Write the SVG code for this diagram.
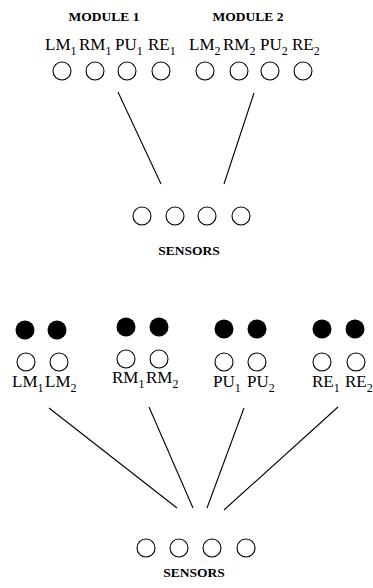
<svg xmlns="http://www.w3.org/2000/svg" width="373" height="588" viewBox="0 0 373 588">
<style>
.o{fill:none;stroke:#000;stroke-width:1.1}
.f{fill:#000}
.l{font-family:"Liberation Serif","Times New Roman",serif;font-size:17px;fill:#000}
.s{font-size:12px}
.t{font-family:"Liberation Serif","Times New Roman",serif;font-size:13.5px;font-weight:bold;fill:#000;text-anchor:middle}
.c{stroke:#000;stroke-width:1.1;fill:none}
</style>
<rect width="373" height="588" fill="#fff"/>
<g id="module1">
<text class="t" x="104" y="21">MODULE 1</text>
<text class="l" x="45" y="50">LM<tspan class="s" dy="4.5">1</tspan></text>
<text class="l" x="79" y="50">RM<tspan class="s" dy="4.5">1</tspan></text>
<text class="l" x="115" y="50">PU<tspan class="s" dy="4.5">1</tspan></text>
<text class="l" x="148" y="50">RE<tspan class="s" dy="4.5">1</tspan></text>
<circle class="o" cx="62" cy="71" r="9"/>
<circle class="o" cx="95" cy="71" r="9"/>
<circle class="o" cx="127" cy="71" r="9"/>
<circle class="o" cx="161" cy="71" r="9"/>
</g>
<g id="module2">
<text class="t" x="248" y="21">MODULE 2</text>
<text class="l" x="189" y="50">LM<tspan class="s" dy="4.5">2</tspan></text>
<text class="l" x="223" y="50">RM<tspan class="s" dy="4.5">2</tspan></text>
<text class="l" x="260" y="50">PU<tspan class="s" dy="4.5">2</tspan></text>
<text class="l" x="292" y="50">RE<tspan class="s" dy="4.5">2</tspan></text>
<circle class="o" cx="205" cy="71" r="9"/>
<circle class="o" cx="239" cy="71" r="9"/>
<circle class="o" cx="270" cy="71" r="9"/>
<circle class="o" cx="303" cy="71" r="9"/>
</g>
<g id="sensors1">
<circle class="o" cx="142" cy="216" r="9"/>
<circle class="o" cx="175" cy="216" r="9"/>
<circle class="o" cx="207" cy="216" r="9"/>
<circle class="o" cx="241" cy="216" r="9"/>
<text class="t" x="189" y="255">SENSORS</text>
</g>
<g id="lm">
<circle class="f" cx="25" cy="330" r="9.5"/>
<circle class="f" cx="57" cy="330" r="9.5"/>
<circle class="o" cx="26" cy="362" r="9"/>
<circle class="o" cx="59" cy="362" r="9"/>
<text class="l" x="12" y="387">LM<tspan class="s" dy="4.5">1</tspan></text>
<text class="l" x="45" y="387">LM<tspan class="s" dy="4.5">2</tspan></text>
</g>
<g id="rm">
<circle class="f" cx="126" cy="327" r="9.5"/>
<circle class="f" cx="159" cy="327" r="9.5"/>
<circle class="o" cx="126" cy="359" r="9"/>
<circle class="o" cx="159" cy="359" r="9"/>
<text class="l" x="112" y="383">RM<tspan class="s" dy="4.5">1</tspan></text>
<text class="l" x="146" y="383">RM<tspan class="s" dy="4.5">2</tspan></text>
</g>
<g id="pu">
<circle class="f" cx="224" cy="329" r="9.5"/>
<circle class="f" cx="257" cy="329" r="9.5"/>
<circle class="o" cx="224" cy="362" r="9"/>
<circle class="o" cx="257" cy="362" r="9"/>
<text class="l" x="213" y="387">PU<tspan class="s" dy="4.5">1</tspan></text>
<text class="l" x="247" y="387">PU<tspan class="s" dy="4.5">2</tspan></text>
</g>
<g id="re">
<circle class="f" cx="322" cy="329" r="9.5"/>
<circle class="f" cx="355" cy="329" r="9.5"/>
<circle class="o" cx="322" cy="362" r="9"/>
<circle class="o" cx="356" cy="362" r="9"/>
<text class="l" x="312" y="387">RE<tspan class="s" dy="4.5">1</tspan></text>
<text class="l" x="345" y="387">RE<tspan class="s" dy="4.5">2</tspan></text>
</g>
<g id="sensors2">
<circle class="o" cx="146" cy="548" r="9"/>
<circle class="o" cx="179" cy="548" r="9"/>
<circle class="o" cx="212" cy="548" r="9"/>
<circle class="o" cx="246" cy="548" r="9"/>
<text class="t" x="194" y="577">SENSORS</text>
</g>
<g id="connectors">
<line class="c" x1="118" y1="92" x2="161" y2="184"/>
<line class="c" x1="254" y1="93" x2="224" y2="184"/>
<line class="c" x1="49" y1="408" x2="177" y2="508"/>
<line class="c" x1="149" y1="407" x2="193" y2="508"/>
<line class="c" x1="244" y1="408" x2="207" y2="508"/>
<line class="c" x1="338" y1="407" x2="224" y2="510"/>
</g>
</svg>
